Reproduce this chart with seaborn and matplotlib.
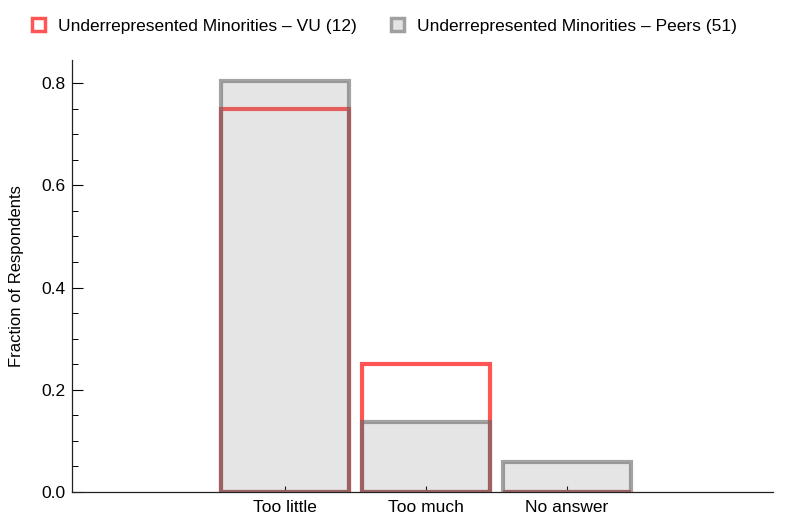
import numpy as np
import pandas as pd
import matplotlib
matplotlib.use("Agg")
import matplotlib.pyplot as plt
import seaborn as sns
from matplotlib.patches import Patch
from matplotlib.ticker import MultipleLocator

# Data
categories = ["Too little", "Too much", "No answer"]
vu_values = [0.75, 0.25, 0.0]          # VU (12)
peer_values = [0.804, 0.137, 0.059]    # Peers (51)
vu_label = "Underrepresented Minorities – VU (12)"
peer_label = "Underrepresented Minorities – Peers (51)"

sns.set_style("ticks")
plt.rcParams["font.family"] = ["Liberation Sans", "DejaVu Sans"]
plt.rcParams["text.color"] = "black"
plt.rcParams["xtick.color"] = "black"
plt.rcParams["ytick.color"] = "black"
plt.rcParams["axes.labelcolor"] = "black"

df_vu = pd.DataFrame({"Answer": categories, "Fraction": vu_values})
df_peer = pd.DataFrame({"Answer": categories, "Fraction": peer_values})

fig = plt.figure(figsize=(7.85, 5.32), dpi=100)
ax = fig.add_axes([0.0917, 0.0752, 0.8930, 0.8118])

red = "#ff5555"
gray_edge = (0.4, 0.4, 0.4, 0.6)
gray_fill = (0.5, 0.5, 0.5, 0.2)

sns.barplot(data=df_vu, x="Answer", y="Fraction", color=red, width=0.91, ax=ax)
n_vu = len(ax.patches)
for p in ax.patches:
    p.set_facecolor("none")
    p.set_edgecolor(red)
    p.set_linewidth(3)
    p.set_zorder(2)

sns.barplot(data=df_peer, x="Answer", y="Fraction", color="gray", width=0.91, ax=ax)
for p in ax.patches[n_vu:]:
    p.set_facecolor(gray_fill)
    p.set_edgecolor(gray_edge)
    p.set_linewidth(3)
    p.set_zorder(3)

ax.set_xlim(-1.51, 3.46)
ax.set_ylim(0, 0.845)
ax.yaxis.set_major_locator(MultipleLocator(0.2))
ax.yaxis.set_minor_locator(MultipleLocator(0.05))
ax.set_yticklabels([f"{v:.1f}" for v in ax.get_yticks()])
ax.tick_params(axis="y", which="major", direction="in", length=8, width=0.8, labelsize=12.5, pad=5)
ax.tick_params(axis="y", which="minor", direction="in", length=4.5, width=0.7)
ax.tick_params(axis="x", direction="in", length=4, width=0.8, labelsize=12.5, pad=6)
ax.set_xlabel("")
ax.set_ylabel("Fraction of Respondents", fontsize=12, labelpad=12)
sns.despine(ax=ax)
for s in ["left", "bottom"]:
    ax.spines[s].set_linewidth(0.9)
    ax.spines[s].set_color("#222222")

handles = [
    Patch(facecolor="white", edgecolor=red, linewidth=2.5, label=vu_label),
    Patch(facecolor="#e3e3e3", edgecolor="#a0a0a0", linewidth=2.5, label=peer_label),
]
fig.legend(handles=handles, loc="center", bbox_to_anchor=(0.490, 0.951), ncol=2,
           frameon=False, fontsize=12.5, handlelength=0.75, handleheight=0.75,
           handletextpad=0.75, columnspacing=2.0)

fig.savefig("out.png", dpi=100)
